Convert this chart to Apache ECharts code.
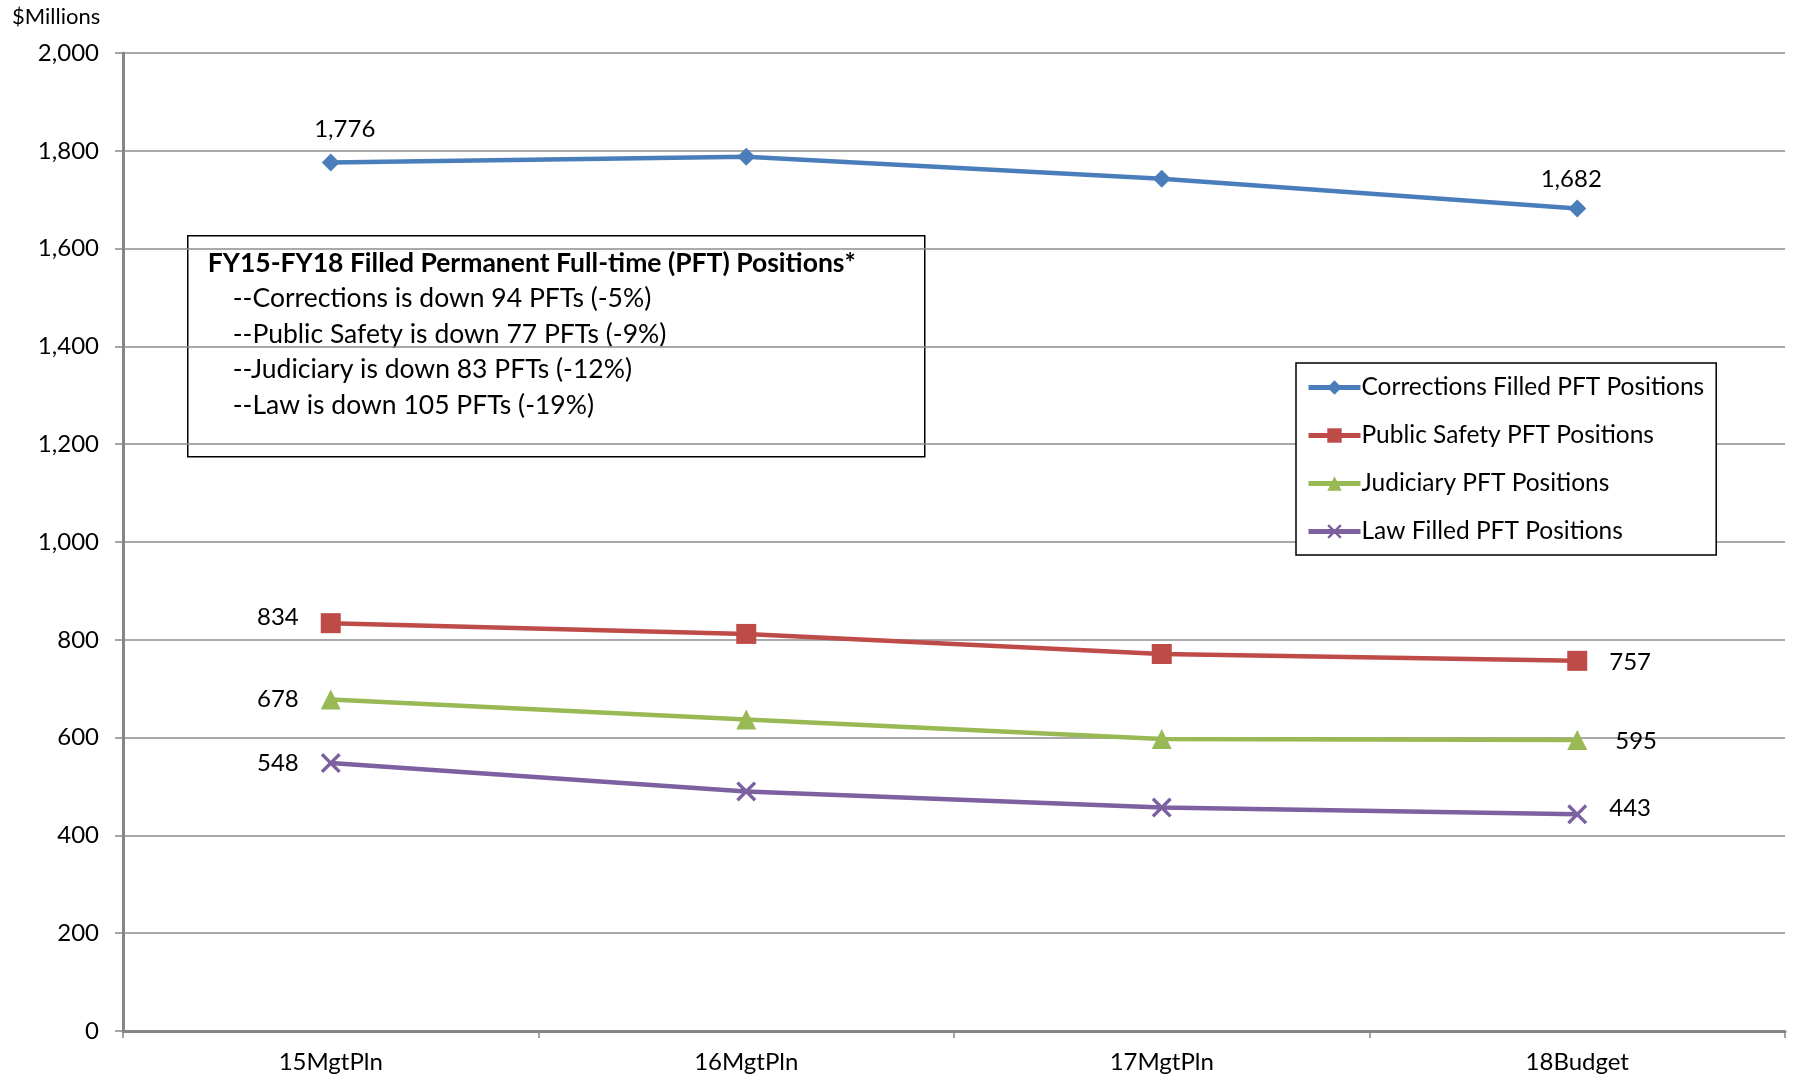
<!DOCTYPE html>
<html>
<head>
<meta charset="utf-8">
<script src="https://cdn.jsdelivr.net/npm/echarts@6/dist/echarts.min.js"></script>
<style>
html,body{margin:0;padding:0;background:#fff;}
#chart{width:1797px;height:1081px;}
</style>
</head>
<body>
<div id="chart"></div>
<script>
const categories = ['15MgtPln', '16MgtPln', '17MgtPln', '18Budget'];
const corrections = [1776, 1788, 1743, 1682];
const publicSafety = [834, 812, 771, 757];
const judiciary = [678, 637, 597, 595];
const law = [548, 490, 457, 443];
const seriesNames = ['Corrections Filled PFT Positions', 'Public Safety PFT Positions', 'Judiciary PFT Positions', 'Law Filled PFT Positions'];
const yTicks = { min: 0, max: 2000, interval: 200 };
const yUnit = '$Millions';
const boxTitle = 'FY15-FY18 Filled Permanent Full-time (PFT) Positions*';
const boxLines = [
  '--Corrections is down 94 PFTs (-5%)',
  '--Public Safety is down 77 PFTs (-9%)',
  '--Judiciary is down 83 PFTs (-12%)',
  '--Law is down 105 PFTs (-19%)'
];

const FONT = 'Lato, "Open Sans", sans-serif';
const colors = ['#4A7EBB', '#BE4B48', '#98B954', '#7D60A0'];
const xPath = 'path://M0,1.2 L1.2,0 L5,3.8 L8.8,0 L10,1.2 L6.2,5 L10,8.8 L8.8,10 L5,6.2 L1.2,10 L0,8.8 L3.8,5 Z';
const symbols = ['diamond', 'rect', 'triangle', xPath];
const symbolSizes = [18, 20, 20, 20];
const datas = [corrections, publicSafety, judiciary, law];
const fmt = v => v.toLocaleString('en-US');

function labelFor(idx, i, n) {
  if (i !== 0 && i !== n - 1) return { show: false };
  if (idx === 0) return { show: true, position: 'top', distance: i === 0 ? 12 : 8, offset: [i === 0 ? 14 : -6, 0] };
  if (i === 0) return { show: true, position: 'left', distance: 22, offset: [0, idx === 1 ? -6 : 0] };
  return { show: true, position: 'right', distance: idx === 2 ? 28 : 22, offset: [0, idx === 3 ? -6 : 1] };
}

const series = datas.map((d, idx) => ({
  name: seriesNames[idx],
  type: 'line',
  data: d.map((v, i) => ({
    value: v,
    label: Object.assign({
      color: '#000', fontSize: 24, fontFamily: FONT,
      formatter: p => fmt(p.value)
    }, labelFor(idx, i, d.length))
  })),
  symbol: symbols[idx],
  symbolSize: symbolSizes[idx],
  showSymbol: true,
  lineStyle: { color: colors[idx], width: 4.5 },
  itemStyle: { color: colors[idx] },
  animation: false,
  z: 3
}));

const chart = echarts.init(document.getElementById('chart'));
chart.setOption({
  backgroundColor: '#fff',
  animation: false,
  grid: { left: 123, right: 12, top: 53, bottom: 50 },
  xAxis: {
    type: 'category',
    data: categories,
    boundaryGap: true,
    axisLine: { lineStyle: { color: '#868686', width: 3 } },
    axisTick: { show: true, length: 7, lineStyle: { color: '#868686', width: 1.5 } },
    axisLabel: { color: '#000', fontSize: 24, fontFamily: FONT, margin: 19 }
  },
  yAxis: {
    type: 'value',
    min: yTicks.min, max: yTicks.max, interval: yTicks.interval,
    axisLine: { show: true, lineStyle: { color: '#868686', width: 3 } },
    axisTick: { show: true, length: 8, inside: false, lineStyle: { color: '#868686', width: 1.5 } },
    axisLabel: { color: '#000', fontSize: 24, fontFamily: FONT, margin: 24, formatter: v => fmt(v) },
    splitLine: { show: true, lineStyle: { color: '#8c8c8c', width: 1.5 } }
  },
  legend: {
    orient: 'vertical',
    left: 1296,
    top: 363,
    data: seriesNames,
    backgroundColor: '#fff',
    borderColor: '#000',
    borderWidth: 1.5,
    padding: [12, 12, 11, 10],
    itemGap: 23,
    itemWidth: 52,
    itemHeight: 18,
    lineStyle: { width: 5 },
    textStyle: { color: '#000', fontSize: 24.5, fontFamily: FONT, padding: [0, 0, 0, -4] }
  },
  graphic: [
    {
      type: 'text', left: 12, top: 6,
      style: { text: yUnit, fill: '#000', font: '22px ' + FONT }
    },
    {
      type: 'group',
      left: 187,
      top: 235,
      z: 10,
      children: [
        { type: 'rect', shape: { x: 0, y: 0, width: 737, height: 221 },
          style: { fill: '#fff', stroke: '#000', lineWidth: 1.5 } },
        { type: 'text', x: 20, y: 28,
          style: { text: boxTitle, fill: '#000', font: 'bold 26.5px ' + FONT, textVerticalAlign: 'middle' } },
      ].concat(boxLines.map((t, i) => ({
        type: 'text', x: 45, y: 63 + i * 35.5,
        style: { text: t, fill: '#000', font: '26.5px ' + FONT, textVerticalAlign: 'middle' }
      })))
    }
  ],
  series: series
});
</script>
</body>
</html>
